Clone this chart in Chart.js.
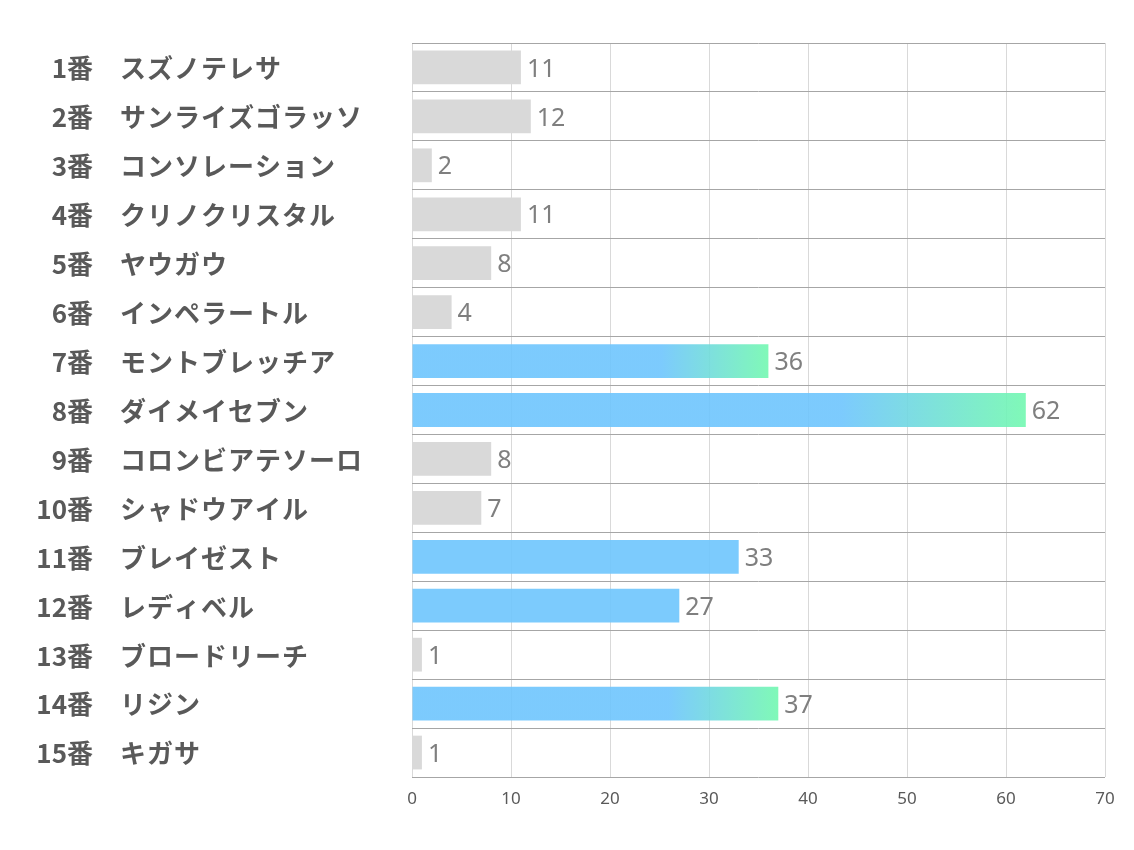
<!DOCTYPE html>
<html>
<head>
<meta charset="utf-8">
<script src="https://cdn.jsdelivr.net/npm/chart.js@4.4.1/dist/chart.umd.min.js"></script>
<style>
  html, body { margin: 0; padding: 0; background: #fff; }
  #wrap { width: 1134px; height: 850px; }
</style>
</head>
<body>
<div id="wrap"><canvas id="voteChart"></canvas></div>
<script>
/* horse numbers and names, top to bottom */
const horseNumbers = ['1番', '2番', '3番', '4番', '5番', '6番', '7番', '8番',
  '9番', '10番', '11番', '12番', '13番', '14番', '15番'];
const horseNames = ['スズノテレサ', 'サンライズゴラッソ', 'コンソレーション', 'クリノクリスタル',
  'ヤウガウ', 'インペラートル', 'モントブレッチア', 'ダイメイセブン', 'コロンビアテソーロ',
  'シャドウアイル', 'ブレイゼスト', 'レディベル', 'ブロードリーチ', 'リジン', 'キガサ'];
const votes = [11, 12, 2, 11, 8, 4, 36, 62, 8, 7, 33, 27, 1, 37, 1];

/* x axis runs 0..70 in steps of 10 */
const xMin = 0, xMax = 70, xStep = 10;

const GRAY  = '#d9d9d9';
const BLUE  = 'rgba(110, 197, 253, 0.9)';
const GREEN = 'rgba(114, 248, 176, 0.9)';

/* top 3 get the blue->green fade, next 2 plain blue, the rest gray */
const ranked  = [...votes].sort((a, b) => b - a);
const fadeCut = ranked[2];
const blueCut = ranked[4];

function barColor(context) {
  const v = context.raw;
  if (v >= fadeCut) {
    const { chart } = context;
    if (!chart.chartArea) return BLUE;
    const xs = chart.scales.x;
    const g = chart.ctx.createLinearGradient(xs.getPixelForValue(0), 0, xs.getPixelForValue(v), 0);
    g.addColorStop(0, BLUE);
    g.addColorStop(0.7, BLUE);
    g.addColorStop(1, GREEN);
    return g;
  }
  return v >= blueCut ? BLUE : GRAY;
}

/* row labels in two columns + value labels at the bar ends */
const labelPlugin = {
  id: 'rowLabels',
  afterDatasetsDraw(chart) {
    const { ctx, scales: { y } } = chart;
    ctx.save();
    ctx.textBaseline = 'middle';
    ctx.fillStyle = '#595959';
    ctx.font = 'bold 26px "Noto Sans CJK JP"';
    horseNames.forEach((name, i) => {
      const py = y.getPixelForTick(i) + 1;
      ctx.letterSpacing = '0px';
      ctx.textAlign = 'right';
      ctx.fillText(horseNumbers[i], 93, py);
      ctx.letterSpacing = '1px';
      ctx.textAlign = 'left';
      ctx.fillText(name, 120, py);
    });

    const meta = chart.getDatasetMeta(0);
    ctx.letterSpacing = '0px';
    ctx.font = '25px "Noto Sans"';
    ctx.fillStyle = '#7f7f7f';
    ctx.textAlign = 'left';
    meta.data.forEach((bar, i) => {
      ctx.fillText(String(votes[i]), bar.x + 6, bar.y + 2);
    });
    ctx.restore();
  }
};

new Chart(document.getElementById('voteChart'), {
  type: 'bar',
  data: {
    labels: horseNames,
    datasets: [{
      data: votes,
      backgroundColor: barColor,
      borderWidth: 0,
      barPercentage: 0.69,
      categoryPercentage: 1
    }]
  },
  options: {
    indexAxis: 'y',
    responsive: true,
    maintainAspectRatio: false,
    animation: false,
    layout: { padding: { top: 43, right: 29, bottom: 0, left: 0 } },
    plugins: {
      legend: { display: false },
      tooltip: { enabled: false }
    },
    scales: {
      x: {
        min: xMin,
        max: xMax,
        ticks: {
          stepSize: xStep,
          color: '#595959',
          font: { family: '"Noto Sans"', size: 17 },
          padding: 12
        },
        grid: { color: '#d9d9d9', drawTicks: false },
        border: { display: false },
        afterFit: (s) => { s.height = 73; }
      },
      y: {
        ticks: { display: false },
        grid: { color: '#a6a6a6', offset: true, drawTicks: false },
        border: { display: false },
        afterFit: (s) => { s.width = 412; }
      }
    }
  },
  plugins: [labelPlugin]
});
</script>
</body>
</html>
